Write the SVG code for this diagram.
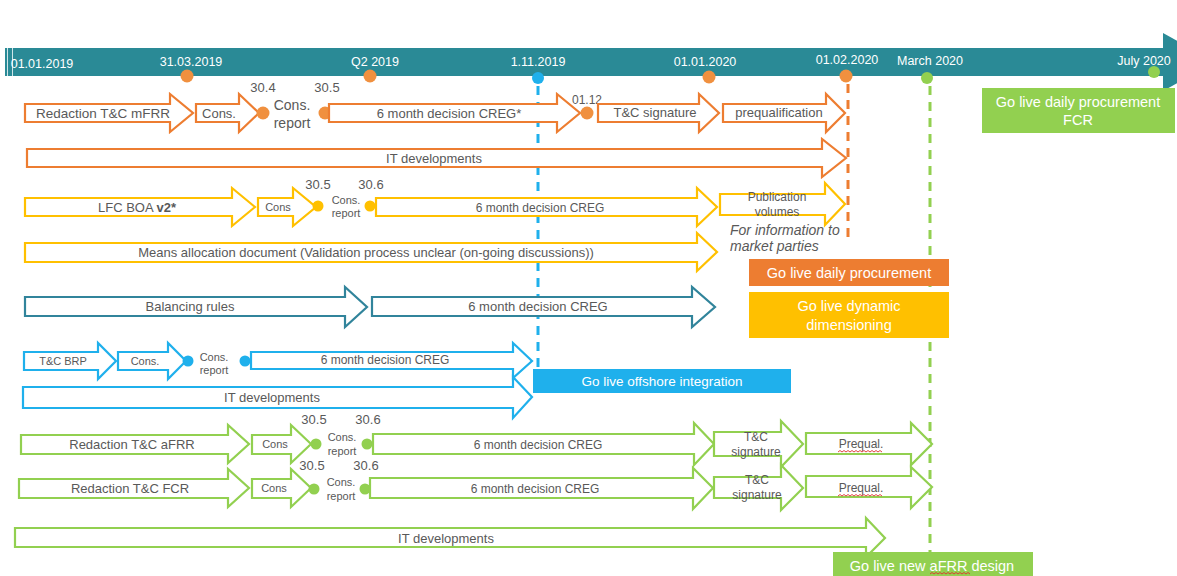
<svg xmlns="http://www.w3.org/2000/svg" width="1177" height="576" viewBox="0 0 1177 576">
<style>
text{font-family:"Liberation Sans",Arial,sans-serif;fill:#595959;text-anchor:middle}
.tl{fill:#fff;font-size:12.5px}
.a{fill:#fff;stroke-width:2.2;stroke-linejoin:miter}
.o{stroke:#ED7D31}.y{stroke:#FFC000}.t{stroke:#31849B}.b{stroke:#1FB0EC}.g{stroke:#92D050}
.do{fill:#F0903F}.dy{fill:#FFC000}.db{fill:#1FB0EC}.dg{fill:#92D050}
.s13{font-size:13px}.s11{font-size:11px}.s12{font-size:12px}.s14{font-size:14px}
.gl{fill:#fff;font-size:14.5px}
.dash{stroke-width:3;stroke-dasharray:9 7;fill:none}
.sq{fill:none;stroke:#E03030;stroke-width:0.9}
</style>

<g id="timeline">
<rect x="5" y="48" width="1162" height="28" fill="#2A8A96"/>
<polygon points="1163,33 1215,62 1163,91" fill="#2A8A96"/>
<line x1="7.5" y1="48" x2="7.5" y2="76" stroke="#cfe6e9" stroke-width="1"/>
<line x1="12.5" y1="48" x2="12.5" y2="76" stroke="#cfe6e9" stroke-width="1"/>
<text class="tl" x="42" y="68">01.01.2019</text>
<text class="tl" x="191" y="66">31.03.2019</text>
<text class="tl" x="375" y="66">Q2 2019</text>
<text class="tl" x="538" y="66">1.11.2019</text>
<text class="tl" x="705" y="66">01.01.2020</text>
<text class="tl" x="847" y="64">01.02.2020</text>
<text class="tl" x="930" y="65">March 2020</text>
<text class="tl" x="1144" y="65">July 2020</text>
<circle cx="187" cy="76" r="6.5" class="do"/>
<circle cx="370" cy="76" r="6.5" class="do"/>
<circle cx="538" cy="78" r="6" class="db"/>
<circle cx="709" cy="77" r="6.5" class="do"/>
<circle cx="846" cy="76" r="6.5" class="do"/>
<circle cx="927" cy="78" r="6" class="dg"/>
<circle cx="1154" cy="72" r="6" class="dg"/>
</g>

<g id="milestone-lines">
<line x1="538" y1="86" x2="538" y2="368" class="dash" stroke="#1FB0EC"/>
<line x1="848" y1="84" x2="848" y2="243" class="dash" stroke="#ED7D31"/>
<line x1="930" y1="86" x2="930" y2="552" class="dash" stroke="#92D050"/>
</g>

<g id="row-mfrr">
<path class="a o" d="M25,104 H170 V94 L193,113 L170,132 V122 H25 Z"/>
<text class="s13" x="103" y="118" style="font-size:13.5px">Redaction T&amp;C mFRR</text>
<path class="a o" d="M196,104 H239 V94 L259,113 L239,132 V122 H196 Z"/>
<text class="s13" x="219" y="118">Cons.</text>
<circle cx="263" cy="113" r="6.5" class="do"/>
<text class="s13" x="263" y="92">30.4</text>
<text class="s14" x="292" y="110">Cons.</text>
<text class="s14" x="292" y="128">report</text>
<text class="s13" x="327" y="92">30.5</text>
<circle cx="325" cy="113" r="6.5" class="do"/>
<path class="a o" d="M329,104 H557 V94 L580,113 L557,132 V122 H329 Z"/>
<text class="s13" x="449" y="118">6 month decision CREG*</text>
<circle cx="587" cy="113" r="6.5" class="do"/>
<text class="s12" x="587" y="104">01.12</text>
<path class="a o" d="M598,104 H699 V94 L719,113 L699,132 V122 H598 Z"/>
<text class="s13" x="655" y="117">T&amp;C signature</text>
<path class="a o" d="M723,104 H826 V94 L845,113 L826,132 V122 H723 Z"/>
<text class="s13" x="779" y="117">prequalification</text>
</g>

<g id="row-mfrr-it">
<path class="a o" d="M27,149 H822 V139 L846,158 L822,177 V167 H27 Z"/>
<text class="s13" x="434" y="163">IT developments</text>
</g>

<g id="row-lfc">
<path class="a y" d="M25,198 H232 V188 L255,207 L232,226 V216 H25 Z"/>
<text class="s13" x="137" y="212">LFC BOA <tspan style="font-weight:bold">v2*</tspan></text>
<path class="a y" d="M258,198 H293 V188 L316,207 L293,226 V216 H258 Z"/>
<text class="s11" x="278" y="211">Cons</text>
<circle cx="318" cy="206" r="5.5" class="dy"/>
<text class="s13" x="318" y="189">30.5</text>
<text class="s11" x="346" y="204">Cons.</text>
<text class="s11" x="346" y="217">report</text>
<text class="s13" x="371" y="189">30.6</text>
<circle cx="370" cy="206" r="5.5" class="dy"/>
<path class="a y" d="M376,198 H697 V188 L717,207 L697,226 V216 H376 Z"/>
<text class="s12" x="540" y="212">6 month decision CREG</text>
<path class="a y" d="M720,194 H825 V183 L845,204 L825,225 V215 H720 Z"/>
<text class="s12" x="777" y="201">Publication</text>
<text class="s12" x="777" y="216">volumes</text>
<text class="s14" x="730" y="235" style="text-anchor:start;font-style:italic">For information to</text>
<text class="s14" x="730" y="251" style="text-anchor:start;font-style:italic">market parties</text>
</g>

<g id="row-means">
<path class="a y" d="M25,243 H697 V233 L717,252 L697,271 V262 H25 Z"/>
<text class="s13" x="366" y="257">Means allocation document (Validation process unclear (on-going discussions))</text>
</g>

<g id="row-balancing">
<path class="a t" d="M25,297 H345 V287 L367,307 L345,327 V316 H25 Z"/>
<text class="s13" x="190" y="311">Balancing rules</text>
<path class="a t" d="M372,297 H692 V287 L715,307 L692,327 V316 H372 Z"/>
<text class="s13" x="538" y="311">6 month decision CREG</text>
</g>

<g id="golive-daily">
<rect x="749" y="259" width="200" height="27" fill="#ED7D31"/>
<text class="gl" x="849" y="278">Go live daily procurement</text>
</g>
<g id="golive-dynamic">
<rect x="749" y="292" width="200" height="46" fill="#FFC000"/>
<text class="gl" x="849" y="311">Go live dynamic</text>
<text class="gl" x="849" y="330">dimensioning</text>
</g>

<g id="row-brp">
<path class="a b" d="M24,352 H98 V343 L116,361 L98,379 V370 H24 Z"/>
<text class="s11" x="63" y="365">T&amp;C BRP</text>
<path class="a b" d="M118,352 H168 V343 L186,361 L168,379 V370 H118 Z"/>
<text class="s11" x="145" y="365">Cons.</text>
<circle cx="188" cy="361" r="5.5" class="db"/>
<text class="s11" x="214" y="361">Cons.</text>
<text class="s11" x="214" y="374">report</text>
<circle cx="245" cy="361" r="5.5" class="db"/>
<path class="a b" d="M251,352 H513 V343 L532,361 L513,378 V369 H251 Z"/>
<text class="s12" x="385" y="364">6 month decision CREG</text>
</g>

<g id="row-brp-it">
<path class="a b" d="M23,387 H513 V377 L532,397 L513,418 V408 H23 Z"/>
<text class="s13" x="272" y="402">IT developments</text>
</g>

<g id="golive-offshore">
<rect x="533" y="369" width="258" height="24" fill="#1FB0EC"/>
<text class="gl" x="662" y="386" style="font-size:13.5px">Go live offshore integration</text>
</g>

<g id="row-afrr">
<path class="a g" d="M21,435 H228 V425 L249,444 L228,463 V454 H21 Z"/>
<text class="s13" x="132" y="449">Redaction T&amp;C aFRR</text>
<path class="a g" d="M252,435 H291 V425 L311,444 L291,463 V454 H252 Z"/>
<text class="s11" x="275" y="448">Cons</text>
<circle cx="316" cy="444" r="5.5" class="dg"/>
<text class="s13" x="314" y="424">30.5</text>
<text class="s11" x="342" y="441">Cons.</text>
<text class="s11" x="342" y="455">report</text>
<text class="s13" x="368" y="424">30.6</text>
<circle cx="367" cy="444" r="5.5" class="dg"/>
<path class="a g" d="M373,434 H694 V423 L714,444 L694,465 V454 H373 Z"/>
<text class="s12" x="538" y="449">6 month decision CREG</text>
<path class="a g" d="M714,432 H781 V421 L803,444 L781,467 V456 H714 Z"/>
<text class="s12" x="756" y="441">T&amp;C</text>
<text class="s12" x="756" y="456">signature</text>
<path class="a g" d="M806,433 H911 V423 L932,444 L911,465 V454 H806 Z"/>
<text class="s12" x="861" y="448">Prequal.</text>
<path class="sq" d="M838,452 l2,-1.5 l2,1.5 l2,-1.5 l2,1.5 l2,-1.5 l2,1.5 l2,-1.5 l2,1.5 l2,-1.5 l2,1.5 l2,-1.5 l2,1.5 l2,-1.5 l2,1.5 l2,-1.5 l2,1.5 l2,-1.5 l2,1.5 l2,-1.5 l2,1.5 l2,-1.5 l2,1.5"/>
</g>

<g id="row-fcr">
<path class="a g" d="M19,479 H228 V469 L249,488 L228,507 V498 H19 Z"/>
<text class="s13" x="130" y="493">Redaction T&amp;C FCR</text>
<path class="a g" d="M252,479 H291 V469 L311,488 L291,507 V498 H252 Z"/>
<text class="s11" x="274" y="492">Cons</text>
<circle cx="314" cy="489" r="5.5" class="dg"/>
<text class="s13" x="312" y="470">30.5</text>
<text class="s11" x="341" y="486">Cons.</text>
<text class="s11" x="341" y="500">report</text>
<text class="s13" x="366" y="470">30.6</text>
<circle cx="365" cy="489" r="5.5" class="dg"/>
<path class="a g" d="M370,478 H693 V468 L713,488 L693,509 V498 H370 Z"/>
<text class="s12" x="535" y="493">6 month decision CREG</text>
<path class="a g" d="M714,477 H781 V465 L803,488 L781,510 V498 H714 Z"/>
<text class="s12" x="757" y="484">T&amp;C</text>
<text class="s12" x="757" y="499">signature</text>
<path class="a g" d="M806,476 H911 V467 L932,487 L911,508 V497 H806 Z"/>
<text class="s12" x="861" y="492">Prequal.</text>
<path class="sq" d="M838,496 l2,-1.5 l2,1.5 l2,-1.5 l2,1.5 l2,-1.5 l2,1.5 l2,-1.5 l2,1.5 l2,-1.5 l2,1.5 l2,-1.5 l2,1.5 l2,-1.5 l2,1.5 l2,-1.5 l2,1.5 l2,-1.5 l2,1.5 l2,-1.5 l2,1.5 l2,-1.5 l2,1.5"/>
</g>

<g id="row-green-it">
<path class="a g" d="M15,528 H866 V518 L885,538 L866,557 V547 H15 Z"/>
<text class="s13" x="446" y="543">IT developments</text>
</g>

<g id="golive-afrr">
<rect x="833" y="552" width="200" height="26" fill="#92D050"/>
<text class="gl" x="932" y="571">Go live new aFRR design</text>
<path class="sq" d="M930,574 l2,-1.5 l2,1.5 l2,-1.5 l2,1.5 l2,-1.5 l2,1.5 l2,-1.5 l2,1.5 l2,-1.5 l2,1.5 l2,-1.5 l2,1.5 l2,-1.5 l2,1.5 l2,-1.5 l2,1.5 l2,-1.5 l2,1.5 l2,-1.5 l2,1.5"/>
</g>

<g id="golive-fcr">
<rect x="982" y="88" width="193" height="45" fill="#92D050"/>
<text class="gl" x="1078" y="107">Go live daily procurement</text>
<text class="gl" x="1078" y="125">FCR</text>
</g>
</svg>
